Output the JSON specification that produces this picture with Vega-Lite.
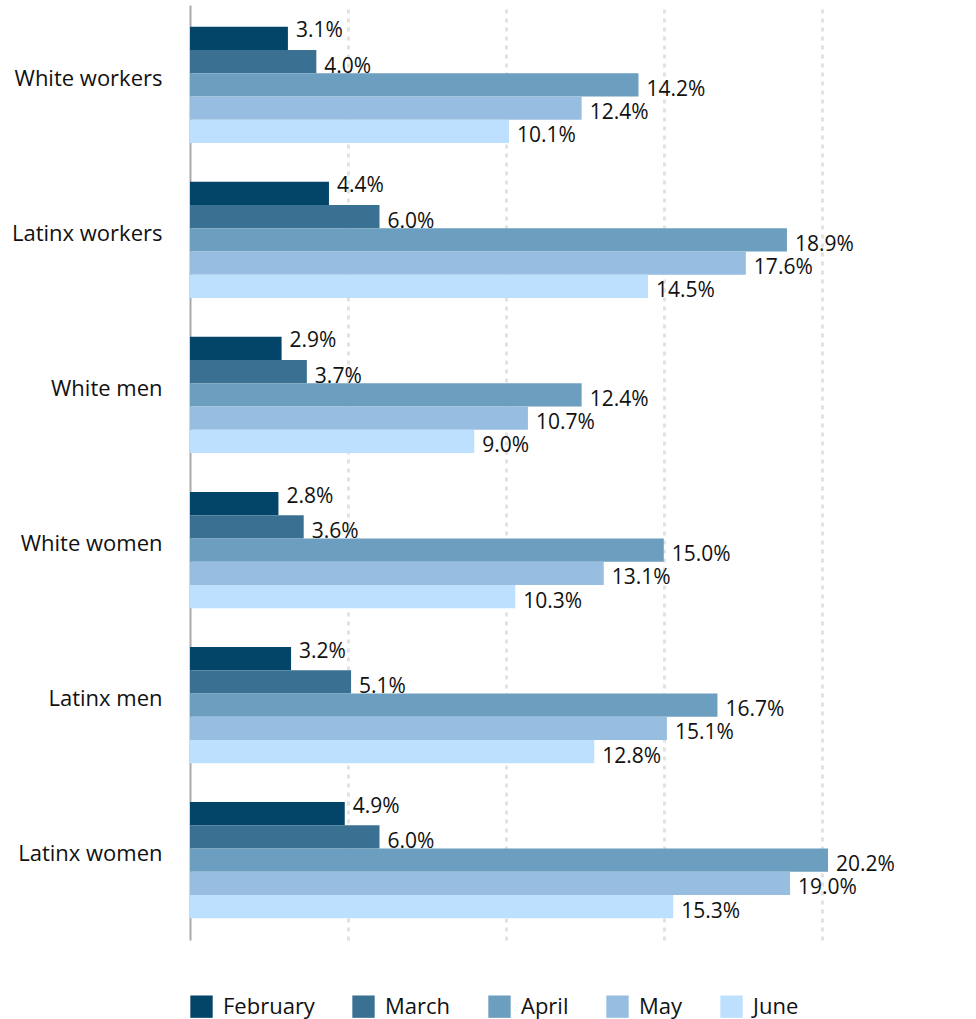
{
  "$schema": "https://vega.github.io/schema/vega-lite/v6.json",
  "autosize": "none",
  "width": 758,
  "height": 935,
  "padding": {"left": 190, "top": 5, "right": 28, "bottom": 79},
  "background": "white",
  "config": {"view": {"stroke": null}, "font": "Open Sans"},
  "data": {"values": [
    {"group": "White workers", "month": "February", "value": 3.1},
    {"group": "White workers", "month": "March", "value": 4.0},
    {"group": "White workers", "month": "April", "value": 14.2},
    {"group": "White workers", "month": "May", "value": 12.4},
    {"group": "White workers", "month": "June", "value": 10.1},
    {"group": "Latinx workers", "month": "February", "value": 4.4},
    {"group": "Latinx workers", "month": "March", "value": 6.0},
    {"group": "Latinx workers", "month": "April", "value": 18.9},
    {"group": "Latinx workers", "month": "May", "value": 17.6},
    {"group": "Latinx workers", "month": "June", "value": 14.5},
    {"group": "White men", "month": "February", "value": 2.9},
    {"group": "White men", "month": "March", "value": 3.7},
    {"group": "White men", "month": "April", "value": 12.4},
    {"group": "White men", "month": "May", "value": 10.7},
    {"group": "White men", "month": "June", "value": 9.0},
    {"group": "White women", "month": "February", "value": 2.8},
    {"group": "White women", "month": "March", "value": 3.6},
    {"group": "White women", "month": "April", "value": 15.0},
    {"group": "White women", "month": "May", "value": 13.1},
    {"group": "White women", "month": "June", "value": 10.3},
    {"group": "Latinx men", "month": "February", "value": 3.2},
    {"group": "Latinx men", "month": "March", "value": 5.1},
    {"group": "Latinx men", "month": "April", "value": 16.7},
    {"group": "Latinx men", "month": "May", "value": 15.1},
    {"group": "Latinx men", "month": "June", "value": 12.8},
    {"group": "Latinx women", "month": "February", "value": 4.9},
    {"group": "Latinx women", "month": "March", "value": 6.0},
    {"group": "Latinx women", "month": "April", "value": 20.2},
    {"group": "Latinx women", "month": "May", "value": 19.0},
    {"group": "Latinx women", "month": "June", "value": 15.3}
  ]},
  "transform": [{"calculate": "format(datum.value, '.1f') + '%'", "as": "label"}],
  "encoding": {
    "y": {
      "field": "group", "type": "nominal",
      "sort": ["White workers", "Latinx workers", "White men", "White women", "Latinx men", "Latinx women"],
      "scale": {"paddingInner": 0.25, "paddingOuter": 0.14},
      "axis": {
        "title": null, "ticks": false, "domain": true, "domainColor": "#aaaaaa", "domainWidth": 2,
        "labelFontSize": 22, "labelColor": "#111111", "labelPadding": 28, "labelOffset": -6, "labelLimit": 300
      }
    },
    "yOffset": {
      "field": "month", "type": "nominal",
      "sort": ["February", "March", "April", "May", "June"],
      "scale": {"paddingInner": 0, "paddingOuter": 0}
    },
    "x": {
      "field": "value", "type": "quantitative",
      "scale": {"domain": [0, 24], "nice": false},
      "axis": {
        "title": null, "labels": false, "ticks": false, "domain": false,
        "values": [5, 10, 15, 20], "grid": true, "gridColor": "#e2e2e2", "gridWidth": 3, "gridDash": [4, 5]
      }
    }
  },
  "layer": [
    {
      "mark": {"type": "bar"},
      "encoding": {
        "color": {
          "field": "month", "type": "nominal",
          "sort": ["February", "March", "April", "May", "June"],
          "scale": {"domain": ["February", "March", "April", "May", "June"], "range": ["#034568", "#3a7193", "#6b9ebf", "#97bee0", "#bde0ff"]},
          "legend": {
            "title": null, "orient": "none", "direction": "horizontal", "legendX": 0, "legendY": 990,
            "symbolType": "square", "symbolSize": 500, "symbolStrokeWidth": 0, "symbolOpacity": 1,
            "labelFontSize": 22, "labelColor": "#111111", "columnPadding": 37, "labelOffset": 10
          }
        }
      }
    },
    {
      "transform": [{"filter": "datum.month === 'February'"}],
      "mark": {"type": "text", "align": "left", "dx": 8, "dy": -7, "fontSize": 21, "color": "#111111"},
      "encoding": {"text": {"field": "label", "type": "nominal"}}
    },
    {
      "transform": [{"filter": "datum.month !== 'February'"}],
      "mark": {"type": "text", "align": "left", "dx": 8, "dy": 5, "fontSize": 21, "color": "#111111"},
      "encoding": {"text": {"field": "label", "type": "nominal"}}
    }
  ]
}
